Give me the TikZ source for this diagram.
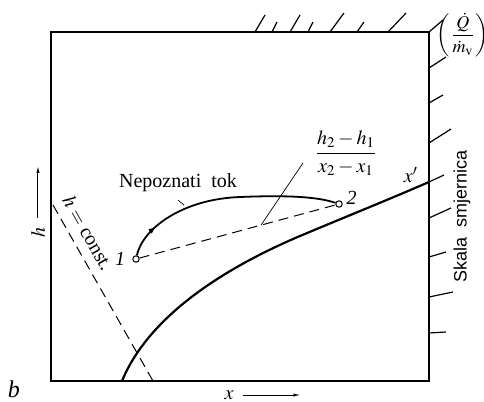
\documentclass[tikz,border=0pt]{standalone}
\usepackage{amsmath}
\usepackage{mathptmx}
\usepackage{fontspec}
\setmainfont{Liberation Serif}
\setsansfont{Liberation Sans}
\usetikzlibrary{positioning,arrows.meta,decorations.markings}

\begin{document}
\begin{tikzpicture}[x=0.5pt,y=-0.5pt,every node/.style={font=\fontsize{10}{12}\selectfont},
    frame/.style={line width=0.6pt},
    tickline/.style={line width=0.6pt},
    pt/.style={circle,draw,fill=white,inner sep=0pt,minimum size=3.2pt,line width=0.5pt},
    leader/.style={line width=0.35pt},
    axarrow/.style={line width=0.5pt,-{Latex[length=3.5pt,width=1.6pt]}}]
  \useasboundingbox (0,0) rectangle (484,402);
  % diagram frame
  \draw[frame] (51,32) rectangle (429,381);
  % scale of guide lines, top and right edge
  \foreach \x/\dx/\dy in {255/10/17,272/5/10,290/10/17,308/5/10,330/14/19,357/7/10,388/18/19,429/14/12}
    \draw[tickline] (\x,32) -- (\x+\dx,32-\dy);
  \foreach \y/\dx/\dy in {68/17/11,103/14/8,143/22/14,182/15/7,218/22/10,257/17/5,297/24/5,333/17/1}
    \draw[tickline] (429,\y) -- (429+\dx,\y-\dy);
  \node[font=\fontsize{9}{11}\selectfont,inner sep=0pt] (qm) at (463,35) {$\biggl(\dfrac{\dot Q}{\dot m_{\mathrm v}}\biggr)$};
  \node[rotate=90,font=\sffamily\fontsize{9}{11}\selectfont] (skala) at (462,216) {Skala\ \ smjernica};
  % h = const.
  \coordinate (hc1) at (53,205);
  \coordinate (hc2) at (153,381);
  \draw[dashed,dash pattern=on 5pt off 3pt,line width=0.5pt] (hc1) -- (hc2);
  \node[rotate=-60.4] (hconst) at (88,233) {$h=$ const.};
  % x' line
  \draw[line width=1.1pt] (122,381) .. controls (148,318) and (220,270) .. (300,236)
    .. controls (350,215) and (390,199) .. (429,182);
  \node (xs) at (411,175) {$x'$};
  % states 1 and 2
  \node[pt] (p1) at (136,259) {};
  \node[pt] (p2) at (339,204) {};
  \node[left=0pt of p1,font=\itshape\fontsize{10}{12}\selectfont] (l1) {1};
  \node[above right=-5pt and -1pt of p2,font=\itshape\fontsize{10}{12}\selectfont] (l2) {2};
  \draw[dashed,dash pattern=on 5pt off 3pt,line width=0.5pt] (p1) -- (p2)
    coordinate[pos=0.62] (dm);
  % unknown path
  \draw[line width=0.9pt,postaction={decorate},
    decoration={markings,mark=at position 0.16 with {\arrow{Latex[length=4pt,width=2.8pt]}}}]
    (p1) .. controls (143,228) and (183,199) .. (240,197) coordinate (tk)
    .. controls (290,195) and (318,197) .. (p2);
  \node (tok) at (178,183) {Nepoznati\ \ tok};
  \coordinate (tc) at (184,205);
  \draw[leader] (tok.south) ++(0,1) -- (tc);
  % slope
  \node (slope) at (346,153) {$\dfrac{h_2-h_1}{x_2-x_1}$};
  \draw[leader] (dm) -- (303,163);
  % axis labels
  \node[rotate=90] (hl) at (38,232) {$h$};
  \draw[axarrow] (hl.east) ++(0,-2) -- ++(0,-52);
  \node (xl) at (229,395) {$x$};
  \draw[axarrow] (xl.east) ++(2,0) -- ++(58,0);
  \node[font=\itshape\fontsize{12}{14}\selectfont] (b) at (14,389) {b};
\end{tikzpicture}
\end{document}
